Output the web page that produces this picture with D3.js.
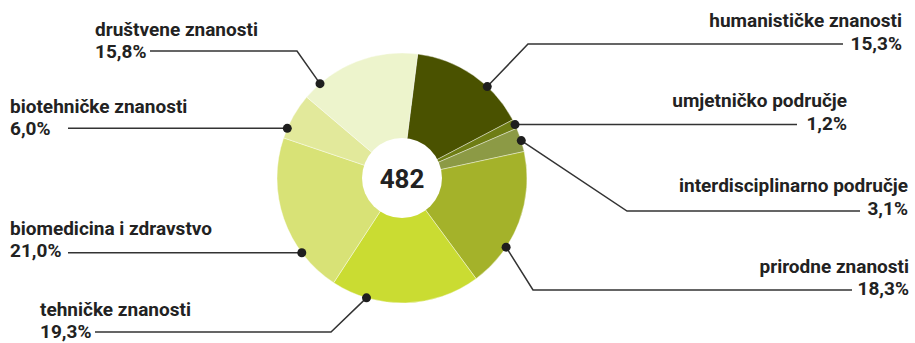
<!DOCTYPE html>
<html><head><meta charset="utf-8">
<script src="https://cdn.jsdelivr.net/npm/d3@7"></script>
<style>html,body{margin:0;padding:0;background:#fff;}svg{display:block;}</style>
</head><body>
<svg id="c" width="915" height="343"></svg>
<script>
const categories = ["humanističke znanosti","umjetničko područje","interdisciplinarno područje","prirodne znanosti","tehničke znanosti","biomedicina i zdravstvo","biotehničke znanosti","društvene znanosti"];
const values = [15.3, 1.2, 3.1, 18.3, 19.3, 21.0, 6.0, 15.8];
const valueLabels = ["15,3%","1,2%","3,1%","18,3%","19,3%","21,0%","6,0%","15,8%"];
const total = 482;
const colors = ["#4a5200","#6e7d14","#8c9a45","#a4b22a","#cadc32","#d8e276","#e2e99b","#edf4cc"];

// layout (positions only)
const cx = 402, cy = 178, rOuter = 125, rInner = 40;
const startDeg = 7.2;
const dotDeg = [43, 64.7, 72.6, 123.6, 196.5, 233.3, 293.4, 319];
const leaders = [
  {ex:528, ey:44,  hx:843, tx:902, anchor:"end",   ty1:27,  ty2:50},
  {ex:null, ey:null, hx:797, tx:847, anchor:"end", ty1:107, ty2:130},
  {ex:627, ey:211, hx:860, tx:908, anchor:"end",   ty1:192, ty2:215},
  {ex:533, ey:290, hx:852, tx:909, anchor:"end",   ty1:273, ty2:295},
  {ex:331, ey:332, hx:95,  tx:40,  anchor:"start", ty1:316, ty2:338},
  {ex:null, ey:null, hx:68, tx:10, anchor:"start", ty1:235, ty2:257},
  {ex:null, ey:null, hx:68, tx:10, anchor:"start", ty1:113, ty2:135},
  {ex:297, ey:51,  hx:150, tx:95,  anchor:"start", ty1:36,  ty2:58}
];

const svg = d3.select("#c");
const g = svg.append("g").attr("transform", `translate(${cx},${cy})`);
const pie = d3.pie().sort(null).value(d => d)
  .startAngle(startDeg * Math.PI/180).endAngle((360 + startDeg) * Math.PI/180);
const arcs = pie(values);
const arc = d3.arc().innerRadius(0).outerRadius(rOuter);
g.selectAll("path.slice").data(arcs).join("path")
  .attr("class","slice")
  .attr("d", arc)
  .attr("fill", (d,i) => colors[i])
  .attr("stroke", "#ffffff").attr("stroke-width", 0.4);

g.append("circle").attr("r", rInner).attr("fill", "#fff");
g.append("text").text(total)
  .attr("text-anchor","middle").attr("y", 10)
  .attr("font-family","Roboto, sans-serif").attr("font-weight", 700)
  .attr("font-size", 26).attr("fill", "#222");

const fontFam = "Roboto, sans-serif";
arcs.forEach((a, i) => {
  const ang = dotDeg[i] * Math.PI/180;
  const dx = cx + Math.sin(ang) * rOuter;
  const dy = cy - Math.cos(ang) * rOuter;
  const L = leaders[i];
  let pts;
  if (L.ex === null) pts = [[dx,dy],[L.hx,dy]];
  else pts = [[dx,dy],[L.ex,L.ey],[L.hx,L.ey]];
  svg.append("path").attr("d", d3.line()(pts))
    .attr("fill","none").attr("stroke","#333").attr("stroke-width",1.5);
  svg.append("circle").attr("cx",dx).attr("cy",dy).attr("r",4.5).attr("fill","#1e1e1e");
  svg.append("text").text(categories[i])
    .attr("x", L.tx).attr("y", L.ty1).attr("text-anchor", L.anchor)
    .attr("font-family", fontFam).attr("font-weight",700).attr("font-size",19).attr("fill","#222");
  svg.append("text").text(valueLabels[i])
    .attr("x", L.tx).attr("y", L.ty2).attr("text-anchor", L.anchor)
    .attr("font-family", fontFam).attr("font-weight",700).attr("font-size",19).attr("fill","#222");
});
</script>
</body></html>
